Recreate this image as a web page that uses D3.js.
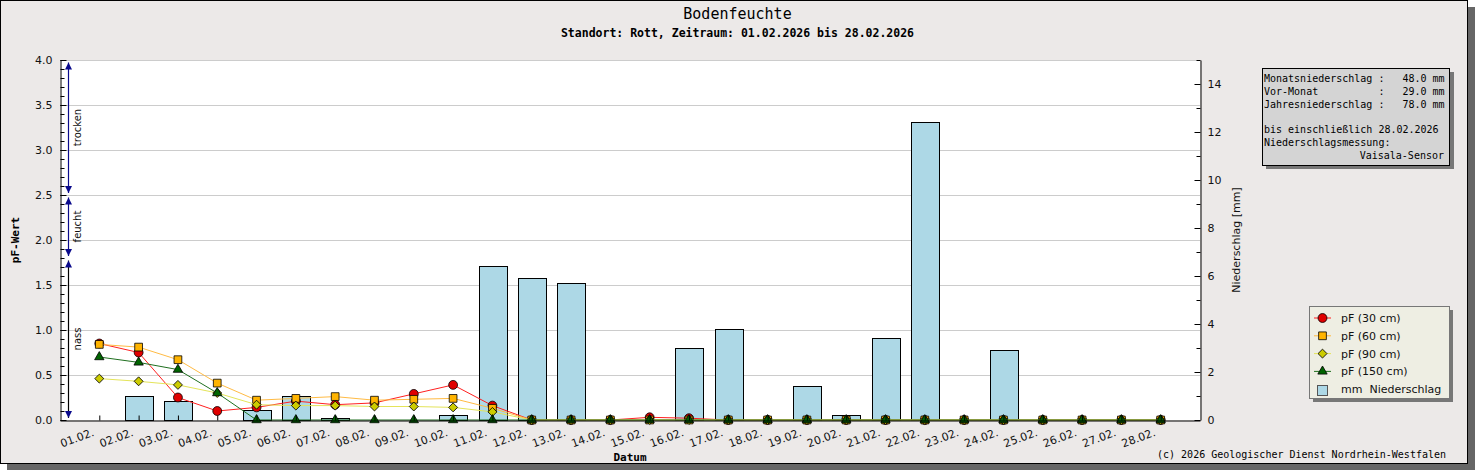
<!DOCTYPE html>
<html>
<head>
<meta charset="utf-8">
<script src="https://cdn.jsdelivr.net/npm/d3@7"></script>
<style>
body { margin:0; background:#ffffff; }
svg text { font-family: "DejaVu Sans", sans-serif; }
svg .mono { font-family: "DejaVu Sans Mono", monospace; white-space: pre; }
</style>
</head>
<body>
<script>
// chart data
var days = ["01.02.","02.02.","03.02.","04.02.","05.02.","06.02.","07.02.","08.02.","09.02.","10.02.",
	"11.02.","12.02.","13.02.","14.02.","15.02.","16.02.","17.02.","18.02.","19.02.","20.02.",
	"21.02.","22.02.","23.02.","24.02.","25.02.","26.02.","27.02.","28.02."];
var precip = [0,1.0,0.8,0,0.4,1.0,0.1,0,0,0.2,6.4,5.9,5.7,0,0,3.0,3.8,0,1.4,0.2,3.4,12.4,0,2.9,0,0,0,0];
var pf30  = [0.85,0.75,0.25,0.10,0.14,0.21,0.17,0.19,0.29,0.39,0.16,0,0,0,0.03,0.02,0,0,0,0,0,0,0,0,0,0,0,0];
var pf60  = [0.84,0.81,0.67,0.41,0.22,0.24,0.26,0.22,0.23,0.24,0.13,0,0,0,0,0,0,0,0,0,0,0,0,0,0,0,0,0];
var pf90  = [0.46,0.43,0.39,0.30,0.17,0.16,0.16,0.15,0.15,0.14,0.09,0,0,0,0,0,0,0,0,0,0,0,0,0,0,0,0,0];
var pf150 = [0.70,0.64,0.56,0.30,0,0,0,0,0,0,0,0,0,0,0,0,0,0,0,0,0,0,0,0,0,0,0,0];
var seriesNames = ["pF (30 cm)","pF (60 cm)","pF (90 cm)","pF (150 cm)"];
var barName = "mm  Niederschlag";
var pfTicks = [0,0.5,1,1.5,2,2.5,3,3.5,4];
var mmTicks = [0,2,4,6,8,10,12,14];
var zoneNames = ["nass","feucht","trocken"];
var zoneBounds = [[0,1.8],[1.8,2.5],[2.5,4.0]];
var infoLines = [
	"Monatsniederschlag :   48.0 mm",
	"Vor-Monat          :   29.0 mm",
	"Jahresniederschlag :   78.0 mm",
	"",
	"bis einschließlich 28.02.2026",
	"Niederschlagsmessung:"
];
var infoSensor = "Vaisala-Sensor";

var W = 1475, H = 470;
var pLeft = 60, pRight = 1200, pTop = 60, pBottom = 420;

var svg = d3.select("body").append("svg")
	.attr("width", W)
	.attr("height", H);

//outer frame with shadow
svg.append("rect").attr("x",7).attr("y",7).attr("width",1468).attr("height",463).style("fill","#666666");
svg.append("rect").attr("x",0.5).attr("y",0.5).attr("width",1467).attr("height",463)
	.style("fill","#ECE9E8").style("stroke","#000");

//scales
var x = d3.scaleLinear().domain([0, days.length + 1]).range([pLeft, pRight]);
var yL = d3.scaleLinear().domain([0, 4]).range([pBottom, pTop]);
var yR = d3.scaleLinear().domain([0, 15]).range([pBottom, pTop]);
var step = x(1) - x(0);

//plot area
svg.append("rect").attr("x",pLeft).attr("y",pTop).attr("width",pRight-pLeft).attr("height",pBottom-pTop)
	.style("fill","#fff");

//grid lines
svg.append("g").selectAll("line")
	.data(pfTicks.filter(function(d){ return d > 0; }))
	.enter().append("line")
	.attr("x1", pLeft).attr("x2", pRight)
	.attr("y1", function(d){ return yL(d) + 0.5; })
	.attr("y2", function(d){ return yL(d) + 0.5; })
	.style("stroke","#cccccc");

//bars
svg.append("g").selectAll("rect")
	.data(precip)
	.enter().append("rect")
	.attr("x", function(d,i){ return Math.round(x(i+1) - step*0.35) + 0.5; })
	.attr("y", function(d){ return Math.round(yR(d)) + 0.5; })
	.attr("width", Math.round(step*0.7))
	.attr("height", function(d){ return Math.max(0, pBottom - Math.round(yR(d))); })
	.style("fill","#ADD8E6")
	.style("stroke", function(d){ return d > 0 ? "#000" : "none"; });

//series styles
var lineColors = ["#ff2020","#ffbb44","#e4e45a","#1f6f1f"];
var fillColors = ["#e00000","#ffb400","#cccc00","#006400"];
var symbols = [
	d3.symbol().type(d3.symbolCircle).size(62),
	d3.symbol().type(d3.symbolSquare).size(60),
	d3.symbol().type(d3.symbolSquare).size(40),
	d3.symbol().type(d3.symbolTriangle).size(38)
];
var symRot = [0,0,45,0];
var series = [pf30, pf60, pf90, pf150];

var line = d3.line()
	.x(function(d,i){ return x(i+1); })
	.y(function(d){ return yL(d); });

series.forEach(function(s, k){
	svg.append("path")
		.datum(s)
		.attr("d", line)
		.style("fill","none")
		.style("stroke", lineColors[k])
		.style("stroke-width", 1);
	svg.append("g").selectAll("path")
		.data(s)
		.enter().append("path")
		.attr("d", symbols[k])
		.attr("transform", function(d,i){
			return "translate(" + x(i+1) + "," + yL(d) + ") rotate(" + symRot[k] + ")";
		})
		.style("fill", fillColors[k])
		.style("stroke","#000")
		.style("stroke-width", 0.8);
});

//left axis
var leftAxis = d3.axisLeft(yL).tickValues(pfTicks).tickSizeInner(-6).tickSizeOuter(0)
	.tickPadding(8).tickFormat(d3.format(".1f"));
var gL = svg.append("g").attr("transform","translate(" + (pLeft+0.5) + ",0)").call(leftAxis);
var minorL = d3.range(0, 41).map(function(d){ return d/10; });
svg.append("g").attr("transform","translate(" + (pLeft+0.5) + ",0)")
	.call(d3.axisLeft(yL).tickValues(minorL).tickSizeInner(-4).tickSizeOuter(0).tickFormat(""))
	.select(".domain").remove();

//right axis
var rightAxis = d3.axisRight(yR).tickValues(mmTicks).tickSizeInner(-6).tickSizeOuter(0).tickPadding(7);
var gR = svg.append("g").attr("transform","translate(" + (pRight+0.5) + ",0)").call(rightAxis);
svg.append("g").attr("transform","translate(" + (pRight+0.5) + ",0)")
	.call(d3.axisRight(yR).tickValues([1,3,5,7,9,11,13,15]).tickSizeInner(-4).tickSizeOuter(0).tickFormat(""))
	.select(".domain").remove();

//bottom axis
var bottomAxis = d3.axisBottom(x).tickValues(d3.range(1, days.length+1)).tickSizeInner(-5).tickSizeOuter(0)
	.tickFormat(function(d){ return days[d-1]; });
var gB = svg.append("g").attr("transform","translate(0," + (pBottom+0.5) + ")").call(bottomAxis);
gB.selectAll(".tick text")
	.attr("x",0).attr("y",0).attr("dy",0)
	.attr("text-anchor","end")
	.attr("transform","translate(-5,15) rotate(-20)");

[gL, gR, gB].forEach(function(g){
	g.selectAll("text").style("font-size","11px").style("fill","#111");
	g.selectAll("line, path").style("stroke","#000");
});

//moisture zones along the left axis
var zoneColors = ["#000","#0a0a8c","#0a0a8c"];
var zx = pLeft + 8.5;
zoneBounds.forEach(function(b, k){
	var y0 = yL(b[0]) - 2, y1 = yL(b[1]) + 2.5;
	svg.append("line").attr("x1",zx).attr("x2",zx).attr("y1",y0).attr("y2",y1)
		.style("stroke", zoneColors[k]).style("stroke-width",1.2);
	svg.append("path")
		.attr("d","M" + zx + "," + y1 + "l-3.5,7h7z")
		.style("fill","#0a0a8c");
	svg.append("path")
		.attr("d","M" + zx + "," + y0 + "l-3.5,-7h7z")
		.style("fill","#0a0a8c");
	svg.append("text")
		.attr("transform","translate(" + (zx+12) + "," + (yL((b[0]+b[1])/2)) + ") rotate(-90)")
		.attr("text-anchor","middle")
		.style("font-size","10px")
		.style("fill","#111")
		.text(zoneNames[k]);
});

//titles
svg.append("text").attr("class","mono")
	.attr("x",737.5).attr("y",19).attr("text-anchor","middle")
	.style("font-size","15px").style("fill","#000")
	.text("Bodenfeuchte");
svg.append("text").attr("class","mono")
	.attr("x",737.5).attr("y",37).attr("text-anchor","middle")
	.style("font-size","11.5px").style("font-weight","bold").style("fill","#000")
	.text("Standort: Rott, Zeitraum: 01.02.2026 bis 28.02.2026");

//axis titles
svg.append("text").attr("class","mono")
	.attr("transform","translate(19," + ((pTop+pBottom)/2) + ") rotate(-90)")
	.attr("text-anchor","middle")
	.style("font-size","11px").style("font-weight","bold")
	.text("pF-Wert");
svg.append("text")
	.attr("transform","translate(1240," + ((pTop+pBottom)/2) + ") rotate(-90)")
	.attr("text-anchor","middle")
	.style("font-size","11px").style("fill","#111")
	.text("Niederschlag [mm]");
svg.append("text").attr("class","mono")
	.attr("x",(pLeft+pRight)/2).attr("y",461).attr("text-anchor","middle")
	.style("font-size","11px").style("font-weight","bold")
	.text("Datum");

//info box
svg.append("rect").attr("x",1266).attr("y",72).attr("width",188).attr("height",97).style("fill","#777");
svg.append("rect").attr("x",1262.5).attr("y",68.5).attr("width",187).attr("height",97)
	.style("fill","#D4D4D4").style("stroke","#000");
svg.append("g").selectAll("text")
	.data(infoLines)
	.enter().append("text")
	.attr("class","mono")
	.attr("x",1264).attr("y",function(d,i){ return 82 + i*12.8; })
	.style("font-size","10px").style("fill","#000")
	.text(function(d){ return d; });
svg.append("text").attr("class","mono")
	.attr("x",1444).attr("y",82 + 6*12.8).attr("text-anchor","end")
	.style("font-size","10px").style("fill","#000")
	.text(infoSensor);

//legend
svg.append("rect").attr("x",1313).attr("y",310).attr("width",140).attr("height",92).style("fill","#777");
svg.append("rect").attr("x",1309.5).attr("y",306.5).attr("width",140).attr("height",92)
	.style("fill","#EEEEE3").style("stroke","#777");
var legend = svg.append("g");
seriesNames.forEach(function(name, k){
	var ly = 318 + k*17.8;
	legend.append("line").attr("x1",1314).attr("x2",1331).attr("y1",ly).attr("y2",ly)
		.style("stroke", lineColors[k]);
	legend.append("path").attr("d", symbols[k])
		.attr("transform","translate(1322.5," + ly + ") rotate(" + symRot[k] + ")")
		.style("fill", fillColors[k]).style("stroke","#000").style("stroke-width",0.8);
	legend.append("text").attr("x",1341).attr("y",ly).attr("dy","0.36em")
		.style("font-size","11px").style("fill","#111").text(name);
});
legend.append("rect").attr("x",1317.5).attr("y",385.5).attr("width",10).attr("height",10)
	.style("fill","#ADD8E6").style("stroke","#555");
legend.append("text").attr("class","mono").attr("x",1341).attr("y",389.5).attr("dy","0.36em")
	.style("font-family","'DejaVu Sans', sans-serif")
	.style("font-size","11px").style("fill","#111").text(barName);

//copyright
svg.append("text").attr("class","mono")
	.attr("x",1446).attr("y",458).attr("text-anchor","end")
	.style("font-size","10px").style("fill","#000")
	.text("(c) 2026 Geologischer Dienst Nordrhein-Westfalen");
</script>
</body>
</html>
